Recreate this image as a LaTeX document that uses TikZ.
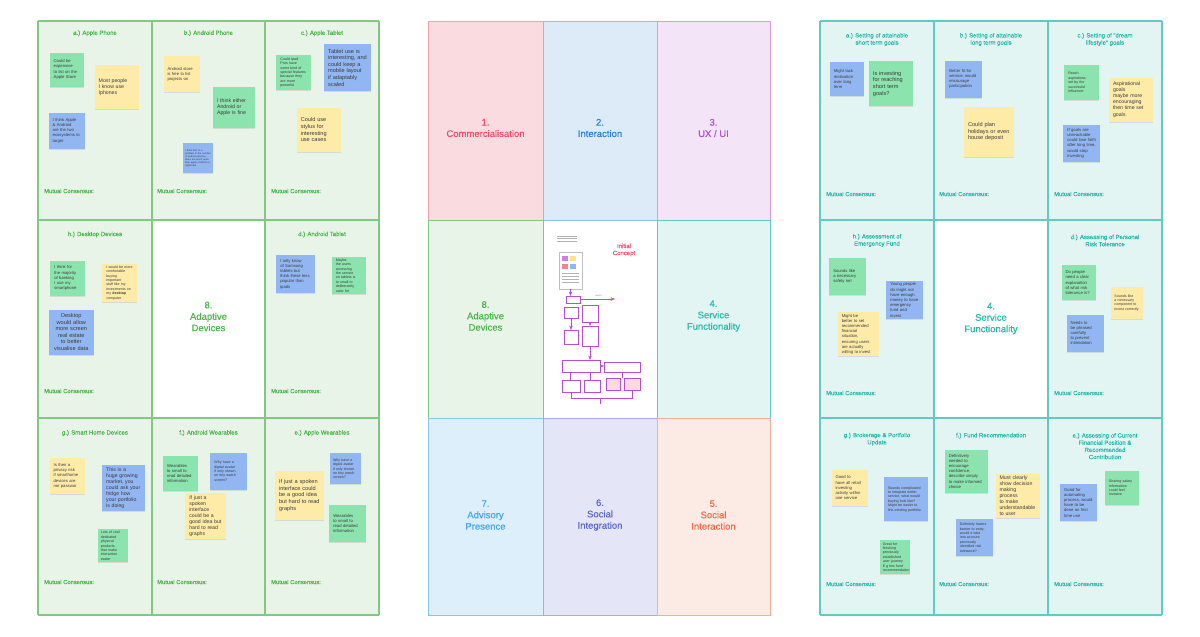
\documentclass[tikz,border=0pt]{standalone}
\usepackage{fontspec}
\setmainfont{Liberation Sans}
\newfontfamily\medium{Liberation Sans}[FakeBold=0.5]
\usetikzlibrary{shadows,arrows.meta}
\hyphenpenalty=10000
\exhyphenpenalty=10000
% colours of the three boards
\definecolor{lfill}{HTML}{E8F4E8}
\definecolor{lline}{HTML}{80C980}
\definecolor{ltext}{HTML}{4DB54D}
\definecolor{rfill}{HTML}{E3F5F3}
\definecolor{rline}{HTML}{62CAC0}
\definecolor{rtext}{HTML}{2AB8AA}
\definecolor{ngreen}{HTML}{8BE3AD}
\definecolor{nyellow}{HTML}{FFEBA8}
\definecolor{nblue}{HTML}{91B6F2}
\definecolor{ntext}{HTML}{3C3C3C}
\definecolor{cpink}{HTML}{FADCE0}\definecolor{cpinkl}{HTML}{EDA3B0}\definecolor{cpinkt}{HTML}{F04E6C}
\definecolor{cblue}{HTML}{DDEAF8}\definecolor{cbluel}{HTML}{93BEEA}\definecolor{cbluet}{HTML}{2C7DD6}
\definecolor{cpurp}{HTML}{F3E4F8}\definecolor{cpurpl}{HTML}{D39CE3}\definecolor{cpurpt}{HTML}{B44ED5}
\definecolor{csky}{HTML}{DEEFFC}\definecolor{cskyl}{HTML}{86C3F2}\definecolor{cskyt}{HTML}{48A6EE}
\definecolor{clav}{HTML}{E5E5F8}\definecolor{clavl}{HTML}{A6ABE8}\definecolor{clavt}{HTML}{5B67CF}
\definecolor{cpeach}{HTML}{FCEBE5}\definecolor{cpeachl}{HTML}{F3AD98}\definecolor{cpeacht}{HTML}{F26A4B}
\tikzset{
  note/.style={rectangle, inner xsep=4pt, inner ysep=2pt, align=left, text=ntext, minimum width=#1pt,
    minimum height=#1pt, text width=#1pt-8pt, drop shadow={shadow xshift=0pt, shadow yshift=-1pt, opacity=0.2}},
  gnote/.style={note=#1, fill=ngreen},
  ynote/.style={note=#1, fill=nyellow},
  bnote/.style={note=#1, fill=nblue},
  fine/.style={font=\fontsize{3.6}{4.4}\selectfont},
  small/.style={font=\fontsize{4.2}{5.2}\selectfont},
  mid/.style={font=\fontsize{5.2}{6.1}\selectfont},
  big/.style={font=\fontsize{5.6}{6.6}\selectfont},
  ttl/.style={font=\medium\fontsize{6}{7.2}\selectfont, align=center, inner sep=0pt},
  mc/.style={font=\medium\fontsize{5.8}{6}\selectfont, anchor=west, inner sep=0pt},
  cat/.style={font=\medium\fontsize{9.5}{11.4}\selectfont, align=center, inner sep=0pt},
}
\begin{document}
\begin{tikzpicture}[x=1pt,y=-1pt,>=Stealth]
\useasboundingbox[fill=white] (0,0) rectangle (1200,637);
% Left board: Adaptive Devices
\fill[lfill] (38,21) rectangle (379,615);
\fill[white] (152,220) rectangle (265,418);
\foreach \x in {38,152,265,379}{\draw[lline,line width=1.1pt] (\x,21) -- (\x,615);}
\foreach \y in {21,220,418,615}{\draw[lline,line width=1.1pt] (38,\y) -- (379,\y);}
\node[ttl,ltext] (lta) at (95,33.3) {a.) Apple Phone};
\node[ttl,ltext] (ltb) at (208.5,33.3) {b.) Android Phone};
\node[ttl,ltext] (ltc) at (322,33.3) {c.) Apple Tablet};
\node[ttl,ltext] (lth) at (95,234.5) {h.) Desktop Devices};
\node[ttl,ltext] (ltd) at (322,234.5) {d.) Android Tablet};
\node[ttl,ltext] (ltg) at (95,433) {g.) Smart Home Devices};
\node[ttl,ltext] (ltf) at (208.5,433) {f.) Android Wearables};
\node[ttl,ltext] (lte) at (322,433) {e.) Apple Wearables};
\node[cat,ltext] (lcat) at (208.5,316.5) {8.\\Adaptive\\Devices};
\foreach \x/\y [count=\i] in {44/191,157/191,271/191,44/391,271/391,44/582,157/582,271/582}
  \node[mc,ltext] (lmc\i) at (\x,\y) {Mutual Consensus:};
% Left board notes
\node[gnote=34,small] (la1) at (66.7,69.5) {Could be expensive to list on the Apple Store};
\node[ynote=44,mid] (la2) at (116.7,87) {Most people I know use Iphones};
\node[bnote=36,small] (la3) at (66.7,130.7) {I think Apple \& Android are the two ecosystems to target};
\node[ynote=36,small] (lb1) at (181.5,74.2) {Android store is free to list projects on};
\node[gnote=41.5,mid] (lb2) at (233.8,107.5) {I think either Android or Apple is fine};
\node[bnote=30.5,font=\fontsize{2.5}{3}\selectfont,inner xsep=2.5pt,text width=25.5pt] (lb3) at (198,158) {I think their is a problem in the number of android devices, there are much more than apple could be a nightmare};
\node[gnote=34.5,fine] (lc1) at (293.7,72.5) {Could Ipad Pros have some kind of special features because they are more powerful};
\node[bnote=47,big] (lc2) at (347.7,67.5) {Tablet use is interesting, and could keep a mobile layout if adaptably scaled};
\node[ynote=44,big] (lc3) at (318.8,129.7) {Could use stylus for interesting use cases};
\node[gnote=35,small] (lh1) at (67.8,278.2) {I think for the majority of banking I use my smartphone};
\node[ynote=34.7,fine] (lh2) at (119.7,282.7) {I would be more comfortable buying important stuff like my investments on my \textbf{desktop} computer};
\node[bnote=45,big,align=center] (lh3) at (71.3,332) {Desktop would allow more screen real estate to better visualise data};
\node[bnote=38.5,small] (ld1) at (295.5,274) {I only know of Samsung tablets but think these less popular than ipads};
\node[gnote=34,fine] (ld2) at (348.8,275.5) {Maybe the users accessing the service on tablets is to small to deliberately cater for};
\node[ynote=35.7,small] (lg1) at (67.5,475.8) {Is their a privacy risk if smarthome devices are not passwor};
\node[bnote=43.3,mid] (lg2) at (123.8,488) {This is a huge growing market, you could ask your fridge how your portfolio is doing};
\node[gnote=30,fine,inner xsep=3pt,text width=24pt] (lg3) at (112.8,545.8) {Lots of cool dedicated physical products that make interaction easier};
\node[gnote=34.5,small] (lf1) at (180.3,473.3) {Wearables to small to read detailed information};
\node[bnote=36.7,fine] (lf2) at (228.7,471.3) {Why have a digital avatar if only shown on tiny watch screen?};
\node[ynote=41,mid] (lf3) at (205.8,516.2) {If just a spoken interface could be a good idea but hard to read graphs};
\node[bnote=31,fine,inner xsep=3pt,text width=25pt] (le1) at (345.5,468.8) {Why have a digital avatar if only shown on tiny watch screen?};
\node[ynote=48.5,big] (le2) at (299.3,495.5) {If just a spoken interface could be a good idea but hard to read graphs};
\node[gnote=36.5,small] (le3) at (347.5,523.3) {Wearables to small to read detailed information};
% Middle board: eight themes
\filldraw[fill=cpink,draw=cpinkl] (428,21) rectangle (543,220);
\filldraw[fill=cblue,draw=cbluel] (543,21) rectangle (657,220);
\filldraw[fill=cpurp,draw=cpurpl] (657,21) rectangle (770,220);
\filldraw[fill=lfill,draw=lline] (428,220) rectangle (543,418);
\filldraw[fill=rfill,draw=rline] (657,220) rectangle (770,418);
\filldraw[fill=csky,draw=cskyl] (428,418) rectangle (543,615);
\filldraw[fill=clav,draw=clavl] (543,418) rectangle (657,615);
\filldraw[fill=cpeach,draw=cpeachl] (657,418) rectangle (770,615);
\node[cat,cpinkt] (m1) at (485.5,128) {1.\\Commercialisation};
\node[cat,cbluet] (m2) at (600,128) {2.\\Interaction};
\node[cat,cpurpt] (m3) at (713.5,128) {3.\\UX / UI};
\node[cat,ltext] (m8) at (485.5,316) {8.\\Adaptive\\Devices};
\node[cat,rtext] (m4) at (713.5,316) {4.\\Service\\Functionality};
\node[cat,cskyt] (m7) at (485.5,515) {7.\\Advisory\\Presence};
\node[cat,clavt] (m6) at (600,515) {6.\\Social\\Integration};
\node[cat,cpeacht] (m5) at (713.5,515) {5.\\Social\\Interaction};
% Initial concept sketch
\node[font=\medium\fontsize{6}{7}\selectfont,text=cpinkt,align=center] (ic) at (624,250) {Initial\\Concept};
\begin{scope}[line width=0.3pt]
  \foreach \y in {236,238.5,241}{\draw[gray!60] (557,\y) -- (577,\y);}
  \filldraw[fill=white,draw=gray!50] (559,252) rectangle (582,289);
  \fill[cpurpt!70] (562,256) rectangle (568,261);
  \fill[nyellow!90!orange] (570,256) rectangle (576,261);
  \fill[cpinkt!70] (562,264) rectangle (568,269);
  \fill[nblue] (570,264) rectangle (576,269);
  \foreach \y in {273,276,279,282}{\draw[gray!60] (562,\y) -- (579,\y);}
  \draw[->,cpurpt] (570.5,289) -- (570.5,296);
  \draw[cpurpt] (566,296) rectangle (580,303);
  \draw[->,cpurpt] (580,299) -- (615,299);
  \node[font=\fontsize{2}{2.4}\selectfont,text=cpinkt] (ins) at (598,296) {Insight};
  \draw[cpurpt] (564,307) rectangle (578,318);
  \draw[cpurpt] (582,305) rectangle (598,322);
  \draw[cpurpt] (582,326) rectangle (598,346);
  \draw[->,cpurpt] (590,322) -- (590,326);
  \draw[->,cpurpt] (571,318) -- (571,330);
  \draw[cpurpt] (564,330) rectangle (578,344);
  \draw[->,cpurpt] (590,346) -- (590,360);
  \draw[cpurpt] (562,360) rectangle (600,372);
  \draw[cpurpt] (604,362) rectangle (640,372);
  \draw[->,cpurpt] (600,366) -- (604,366);
  \draw[cpurpt] (570,372) -- (570,380) (590,372) -- (590,380) (622,372) -- (622,378);
  \draw[cpurpt] (562,380) rectangle (580,392);
  \draw[cpurpt] (584,380) rectangle (600,392);
  \filldraw[fill=cpink,draw=cpurpt] (606,378) rectangle (620,390);
  \filldraw[fill=cpink,draw=cpurpt] (624,378) rectangle (640,390);
  \draw[cpurpt] (571,392) -- (571,398) -- (632,398) -- (632,390);
  \draw[cpurpt] (600,398) -- (600,404);
\end{scope}
% Right board: Service Functionality
\fill[rfill] (820,21) rectangle (1162,615);
\fill[white] (934,220) rectangle (1048,418);
\foreach \x in {820,934,1048,1162}{\draw[rline,line width=1.1pt] (\x,21) -- (\x,615);}
\foreach \y in {21,220,418,615}{\draw[rline,line width=1.1pt] (820,\y) -- (1162,\y);}
\node[ttl,rtext] (rta) at (877,39.5) {a.) Setting of attainable\\short term goals};
\node[ttl,rtext] (rtb) at (991,39.5) {b.) Setting of attainable\\long term goals};
\node[ttl,rtext] (rtc) at (1105,39.5) {c.) Setting of "dream\\lifestyle" goals};
\node[ttl,rtext] (rth) at (877,240.5) {h.) Assessment of\\Emergency Fund};
\node[ttl,rtext] (rtd) at (1105,240.5) {d.) Assessing of Personal\\Risk Tolerance};
\node[ttl,rtext] (rtg) at (877,439.2) {g.) Brokerage \& Portfolio\\Update};
\node[ttl,rtext] (rtf) at (991,435.7) {f.) Fund Recommendation};
\node[ttl,rtext] (rte) at (1105,446.2) {e.) Assessing of Current\\Financial Position \&\\Recommended\\Contribution};
\node[cat,rtext] (rcat) at (991,318.5) {4.\\Service\\Functionality};
\foreach \x/\y [count=\i] in {826/194,939/194,1054/194,826/393,1054/393,826/584,939/584,1054/584}
  \node[mc,rtext] (rmc\i) at (\x,\y) {Mutual Consensus:};
% Right board notes
\node[bnote=34.5,small] (ra1) at (847.2,79.2) {Might lack motivation over long term};
\node[gnote=44.5,big] (ra2) at (891.2,83.7) {Is investing for reaching short term goals?};
\node[bnote=37,small] (rb1) at (963.8,79) {Better fit for service, would encourage participation};
\node[ynote=50,big] (rb2) at (989,131.7) {Could plan holidays or even house deposit};
\node[gnote=34.5,fine] (rc1) at (1081.5,82.5) {Reach aspirations set by the successful influencer};
\node[ynote=44,mid] (rc2) at (1131,99.5) {Aspirational goals maybe more encouraging then time set goals.};
\node[bnote=36.7,small] (rc3) at (1081.7,143.3) {If goals are unreachable could lose faith after long time, would stop investing};
\node[gnote=36.5,small] (rh1) at (847.5,276.7) {Sounds like a necessary safety net};
\node[bnote=36.5,small] (rh2) at (904.5,300) {Young people do might not have enough money to have emergency fund and invest};
\node[ynote=41.5,small] (rh3) at (858.5,334.2) {Might be better to set recommended financial situation, ensuring users are actually willing to invest};
\node[gnote=34.5,small] (rd1) at (1078.8,282.5) {Do people need a clear explanation of what risk tolerance is?};
\node[ynote=31.5,fine,inner xsep=3pt,text width=25.5pt] (rd2) at (1127.2,302.8) {Sounds like a necessary component to invest correctly};
\node[bnote=37,small] (rd3) at (1085,333) {Needs to be phrased carefully to prevent intimidation};
\node[ynote=36,small] (rg1) at (849.5,487.7) {Good to have all retail investing activity within one service};
\node[bnote=43.5,fine] (rg2) at (905.8,499.2) {Sounds complicated to integrate within service, what would buying look like? Might be easier to link existing portfolio};
\node[gnote=30,fine,inner xsep=3pt,text width=24pt] (rg3) at (894.8,557) {Great for finishing previously established user journey E.g ties fund recommendation};
\node[gnote=43,small] (rf1) at (966.3,471.2) {Definitively needed to encourage confidence, describe simply to make informed choice};
\node[ynote=44,mid] (rf2) at (1017.5,495.8) {Must clearly show decision making process to make understandable to user};
\node[bnote=36.7,fine] (rf3) at (974.3,537.7) {Definitely lowers barrier to entry, would it take into account previously identified risk tolerance?};
\node[bnote=36.7,small] (re1) at (1078.5,502.5) {Good for automating process, would have to be done on first time use};
\node[gnote=34.5,fine] (re2) at (1122.2,488) {Sharing salary information could feel invasive};
\end{tikzpicture}
\end{document}
